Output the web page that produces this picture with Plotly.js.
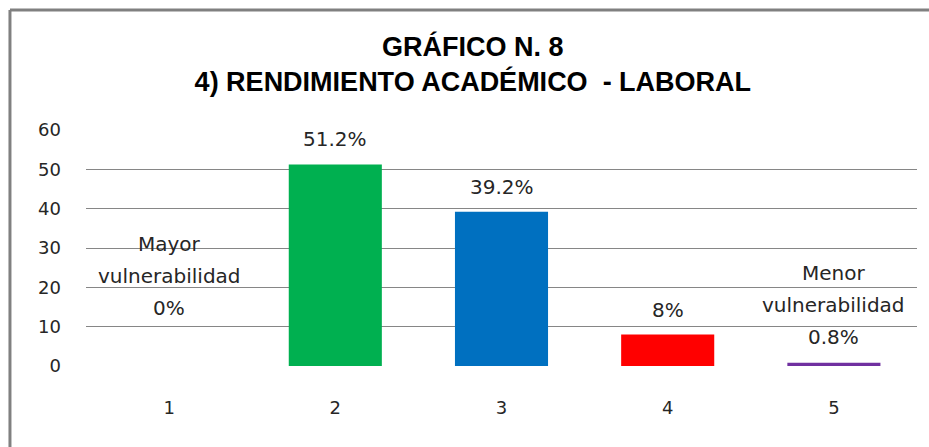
<!DOCTYPE html>
<html>
<head>
<meta charset="utf-8">
<script src="https://cdn.plot.ly/plotly-3.0.1.min.js"></script>
<style>
html,body{margin:0;padding:0;background:#fff;}
#chart{width:929px;height:447px;}
</style>
</head>
<body>
<div id="chart"></div>
<script>
// ---- data ----
const categories = ["1", "2", "3", "4", "5"];
const values = [0, 51.2, 39.2, 8, 0.8];
const labels = ["Mayor<br>vulnerabilidad<br>0%", "51.2%", "39.2%", "8%", "Menor<br>vulnerabilidad<br>0.8%"];
const yTicks = [0, 10, 20, 30, 40, 50, 60];
const gridTicks = [0, 10, 20, 30, 40, 50];

// ---- styles ----
const barColors = ["#00B050", "#00B050", "#0070C0", "#FF0000", "#7030A0"];
const labelShift = [58, 26, 25, 25, 26];
const lineGap = 32;
const gray = "#868686";

const trace = {
  type: "bar",
  x: categories,
  y: values,
  marker: {color: barColors},
  hoverinfo: "skip"
};

const annotations = [];
categories.forEach((c, i) => {
  const lines = labels[i].split("<br>");
  lines.forEach((ln, j) => {
    annotations.push({
      x: i, y: values[i], xref: "x", yref: "y",
      text: ln, showarrow: false,
      yanchor: "middle", xanchor: "center",
      yshift: labelShift[i] + (lines.length - 1 - j) * lineGap,
      font: {family: "DejaVu Sans", size: 20, color: "#262626"}
    });
  });
});

const layout = {
  width: 929, height: 447,
  margin: {l: 86, r: 12, t: 130, b: 81, pad: 0},
  paper_bgcolor: "#ffffff", plot_bgcolor: "#ffffff",
  showlegend: false,
  bargap: 0.44,
  title: {
    text: "<b>GRÁFICO N. 8<br>4) RENDIMIENTO ACADÉMICO  - LABORAL</b>",
    font: {family: "Liberation Sans Narrow, Arial Narrow, Liberation Sans", size: 27, color: "#000"},
    x: 0.509, xref: "container", xanchor: "center",
    y: 0.874, yref: "container", yanchor: "top"
  },
  xaxis: {
    type: "category",
    categoryarray: categories, categoryorder: "array",
    range: [-0.5, categories.length - 0.5],
    showgrid: false, zeroline: false, showline: false,
    ticks: "", ticklabelstandoff: 29,
    tickfont: {family: "DejaVu Sans", size: 18, color: "#262626"}
  },
  yaxis: {
    range: [0, 60], tickvals: yTicks, ticktext: yTicks.map(String),
    showgrid: false, zeroline: false, showline: false,
    ticks: "", ticklabelstandoff: 24,
    tickfont: {family: "DejaVu Sans", size: 18, color: "#262626"}
  },
  yaxis2: {
    range: [0, 60], overlaying: "y", side: "left",
    tickvals: gridTicks, showticklabels: false,
    showgrid: true, gridcolor: gray, gridwidth: 1,
    zeroline: false, showline: false, ticks: ""
  },
  annotations: annotations,
  shapes: [
    {type: "line", xref: "paper", yref: "paper", x0: -0.0915, x1: 1.02, y0: 1.508, y1: 1.508,
     line: {color: "#808080", width: 3}},
    {type: "line", xref: "paper", yref: "paper", x0: -0.0915, x1: -0.0915, y0: 1.508, y1: -0.36,
     line: {color: "#808080", width: 3}}
  ]
};

const gridTrace = {type: "scatter", x: [categories[0]], y: [0], yaxis: "y2", mode: "none", hoverinfo: "skip", showlegend: false};

Plotly.newPlot("chart", [gridTrace, trace], layout, {displayModeBar: false, staticPlot: true});
</script>
</body>
</html>
